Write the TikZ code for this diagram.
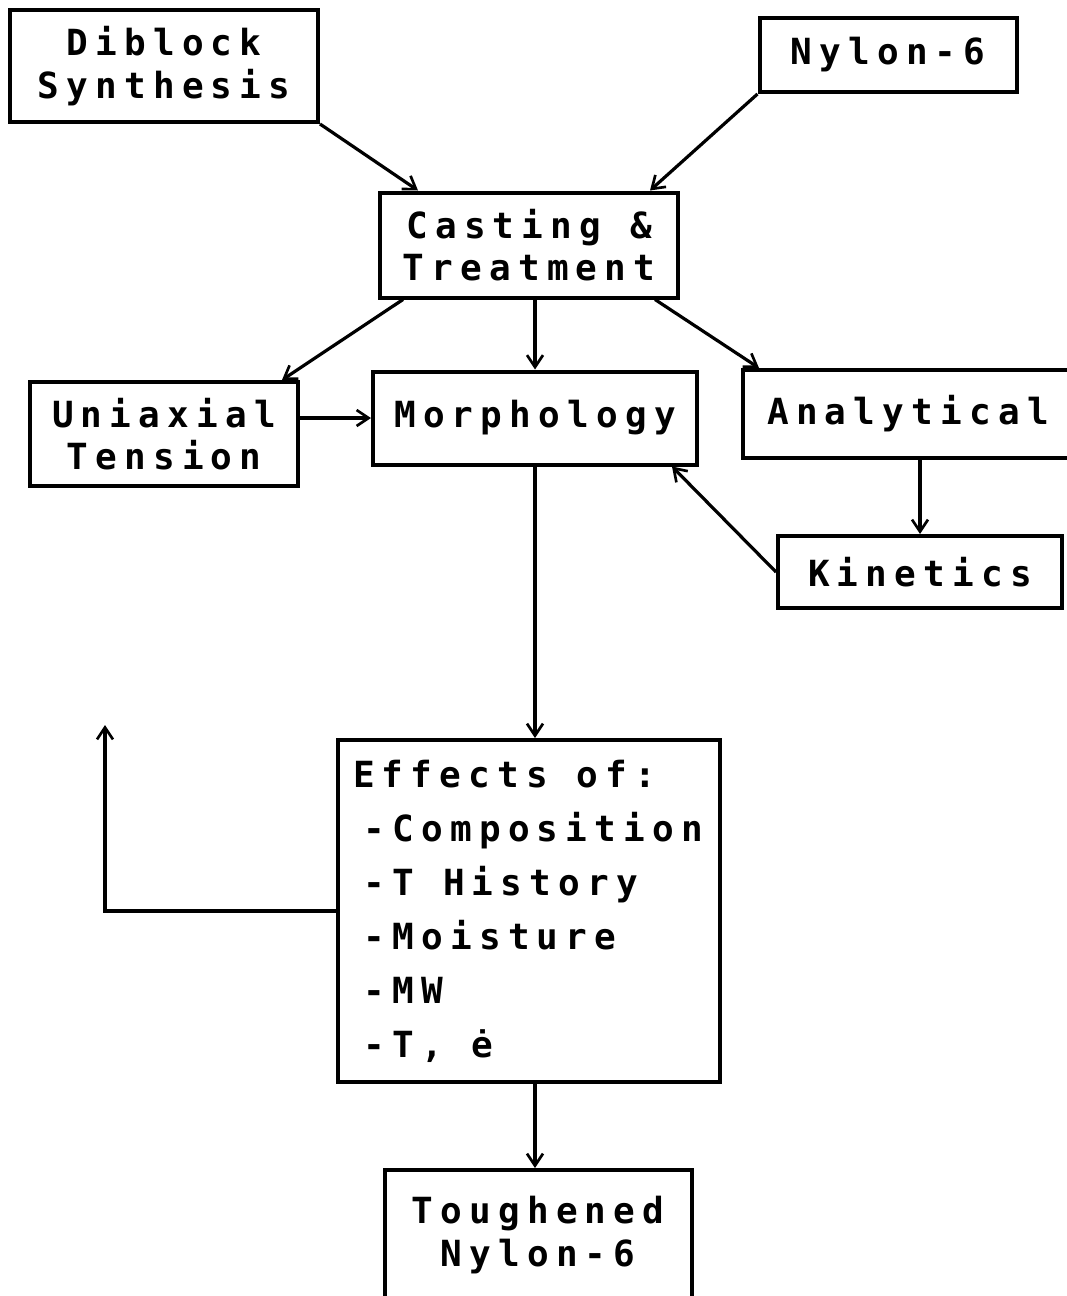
\documentclass[tikz,border=0pt]{standalone}
\usepackage{fontspec}
\setmonofont[LetterSpace=20]{DejaVu Sans Mono}
\usetikzlibrary{calc,arrows.meta}
\newcommand{\wgap}{\hspace*{0.8em}}
\begin{document}
\begin{tikzpicture}[x=0.75pt,y=-0.75pt,
  box/.style={draw, line width=3pt, inner sep=0pt, align=center,
    font=\ttfamily\bfseries\fontsize{27}{32}\selectfont},
  conn/.style={line width=2.4pt, -{Straight Barb[length=9pt,width=12pt,line width=2pt]}}]
\useasboundingbox (0,0) rectangle (1067,1296);
\node[box, minimum width=308*0.75pt, minimum height=112*0.75pt] (dib) at (164,66) {Diblock\\Synthesis};
\node[box, minimum width=257*0.75pt, minimum height=74*0.75pt] (nyl) at (888,55) {Nylon-6};
\node[box, minimum width=298*0.75pt, minimum height=105*0.75pt] (cast) at (529,245) {Casting\wgap\&\\Treatment};
\node[box, minimum width=268*0.75pt, minimum height=104*0.75pt] (uni) at (164,434) {Uniaxial\\Tension};
\node[box, minimum width=324*0.75pt, minimum height=93*0.75pt] (mor) at (535,418) {Morphology};
\node[box, minimum width=330*0.75pt, minimum height=88*0.75pt] (ana) at (908,414) {Analytical};
\node[box, minimum width=284*0.75pt, minimum height=72*0.75pt] (kin) at (920,572) {Kinetics};
\node[box, align=left, text width=352*0.75pt, inner xsep=15*0.75pt,
  minimum height=342*0.75pt, font=\ttfamily\bfseries\fontsize{27}{40.5}\selectfont] (eff) at (529,911)
  {Effects\wgap of:\\\hspace*{8pt}-Composition\\\hspace*{8pt}-T\wgap History\\\hspace*{8pt}-Moisture\\\hspace*{8pt}-MW\\\hspace*{8pt}-T,\wgap ė};
\node[box, minimum width=307*0.75pt, minimum height=130*0.75pt] (tou) at (538,1235) {Toughened\\Nylon-6};
\coordinate (up) at (105,725);
% connectors
\draw[conn] (dib.south east) -- ($(cast.north west)+(40,0)$);
\draw[conn] (nyl.south west) -- ($(cast.north east)+(-30,0)$);
\draw[conn] ($(cast.south west)+(25,0)$) -- ($(uni.north east)+(-18,0)$);
\draw[conn] (cast.south -| mor.north) -- (mor.north);
\draw[conn] ($(cast.south east)+(-25,0)$) -- ($(ana.north west)+(18,0)$);
\draw[conn] (uni.east |- mor.west) -- (mor.west);
\draw[conn] (ana.south -| kin.north) -- (kin.north);
\draw[conn] (kin.west) -- ($(mor.south east)+(-27,0)$);
\draw[conn] (mor.south) -- (eff.north -| mor.south);
\draw[conn] (eff.west) -| (up);
\draw[conn] (eff.south -| mor.south) -- (tou.north -| mor.south);
\end{tikzpicture}
\end{document}
